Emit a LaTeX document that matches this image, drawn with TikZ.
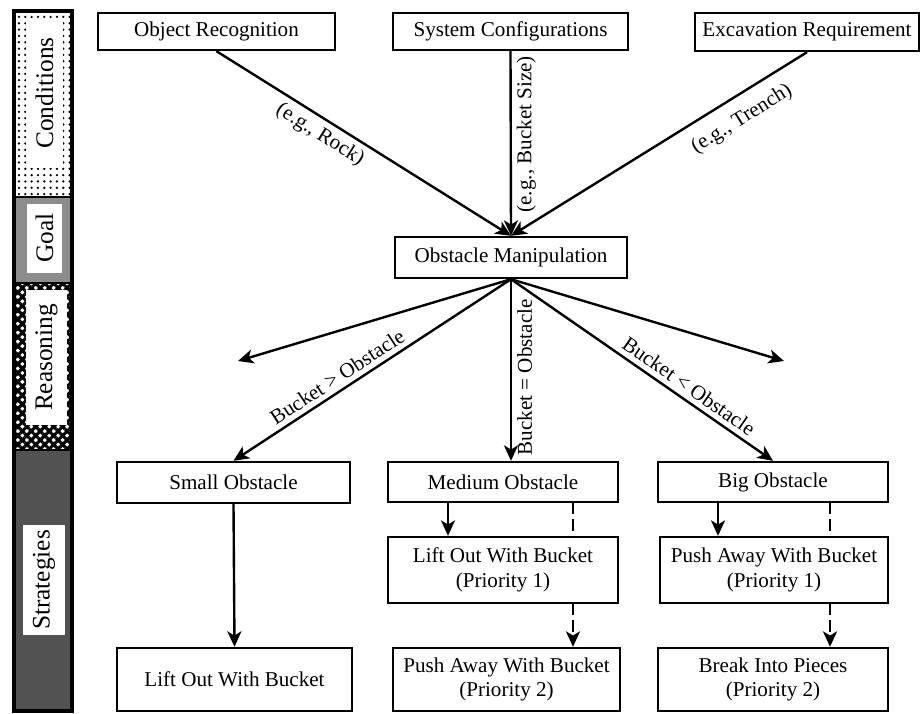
\documentclass[tikz,border=0pt]{standalone}
\usepackage{fontspec}
\setmainfont{Liberation Serif}
\usetikzlibrary{arrows.meta,patterns.meta}
\begin{document}
\begin{tikzpicture}[x=0.025cm, y=-0.025cm,
  wh/.style 2 args={minimum width=#1*0.025cm, minimum height=#2*0.025cm},
  box/.style={draw=black, line width=1.7pt, fill=white, align=center, inner sep=0pt, font=\fontsize{15}{17.5}\selectfont},
  tip/.tip={Stealth[length=11pt,width=10pt,inset=3pt]},
  arr/.style={line width=1.7pt, -tip},
  dsh/.style={line width=1.7pt, dash pattern=on 8pt off 3.5pt},
  lbl/.style={font=\fontsize{15}{17.5}\selectfont, inner sep=3.5pt},
  side/.style={fill=white, rotate=90, inner sep=0pt, font=\fontsize{18}{20}\selectfont}]
\useasboundingbox (0,0) rectangle (921,713);
\fill[pattern={Dots[distance=4.5pt, radius=0.9pt]}] (14,11) rectangle (72,197);
\fill[black!45] (14,197) rectangle (72,283);
\fill[pattern={Hatch[angle=45, distance=4.5pt, line width=2.2pt]}] (14,283) rectangle (72,450);
\fill[black!68] (14,450) rectangle (72,711);
\draw[line width=1.4pt] (14,197) -- (72,197) (14,283) -- (72,283) (14,450) -- (72,450);
\draw[line width=2.2pt] (14,11) rectangle (72,711);
\node[side, wh={150}{37}] (cond) at (44.5,93) {Conditions};
\node[side, wh={69}{35}] (goal) at (44.5,238) {Goal};
\node[side, wh={135}{41}] (reas) at (46.5,357.5) {Reasoning};
\node[side, wh={110}{42}] (strat) at (44,580) {Strategies};

\node[box, wh={237}{37}] (rec) at (216.5,31.5) {Object Recognition};
\node[box, wh={235}{37}] (cfg) at (510.5,31.5) {System Configurations};
\node[box, wh={224}{38}] (req) at (807,32) {Excavation Requirement};
\node[box, wh={232}{41}] (man) at (511,257.5) {Obstacle Manipulation};
\node[box, wh={233}{41}] (small) at (233.5,482.5) {Small Obstacle};
\node[box, wh={230}{40}] (medium) at (503,482) {Medium Obstacle};
\node[box, wh={230}{40}] (big) at (773,482) {Big Obstacle};
\node[box, wh={230}{66}] (mlift) at (503,570) {Lift Out With Bucket\\(Priority 1)};
\node[box, wh={228}{66}] (bpush) at (774,570) {Push Away With Bucket\\(Priority 1)};
\node[box, wh={235}{63}] (slift) at (234.5,679.5) {Lift Out With Bucket};
\node[box, wh={227}{63}] (mpush) at (506.5,679.5) {Push Away With Bucket\\(Priority 2)};
\node[box, wh={230}{63}] (bbreak) at (773,679.5) {Break Into Pieces\\(Priority 2)};
\coordinate (lfree) at (238,361);
\coordinate (rfree) at (784,361);

\draw[arr] (rec.south) -- node[lbl, pos=0.38, sloped, below] {(e.g., Rock)} (man.north);
\draw[arr] (cfg.south) -- node[lbl, pos=0.45, rotate=90, anchor=north] {(e.g., Bucket Size)} (man.north);
\draw[arr, tip-] (man.north) -- node[lbl, pos=0.74, sloped, below=5pt] {(e.g., Trench)} (req.south);

\draw[arr] (man.south) -- (lfree);
\draw[arr, tip-] (small.north) -- node[lbl, pos=0.4, sloped, above] {Bucket > Obstacle} (man.south);
\draw[arr] (man.south) -- node[lbl, pos=0.54, rotate=90, anchor=north] {Bucket = Obstacle} (man.south |- medium.north);
\draw[arr] (man.south) -- node[lbl, pos=0.65, sloped, above] {Bucket < Obstacle} (big.north);
\draw[arr] (man.south) -- (rfree);

\draw[arr] (small.south) -- (slift.north);
\draw[arr] (448,0 |- medium.south) -- (448,0 |- mlift.north);
\draw[dsh] (573,0 |- medium.south) -- (573,0 |- mlift.north);
\draw[dsh, arr] (573,0 |- mlift.south) -- (573,0 |- mpush.north);
\draw[arr] (718,0 |- big.south) -- (718,0 |- bpush.north);
\draw[dsh] (830,0 |- big.south) -- (830,0 |- bpush.north);
\draw[dsh, arr] (830,0 |- bpush.south) -- (830,0 |- bbreak.north);
\end{tikzpicture}
\end{document}
